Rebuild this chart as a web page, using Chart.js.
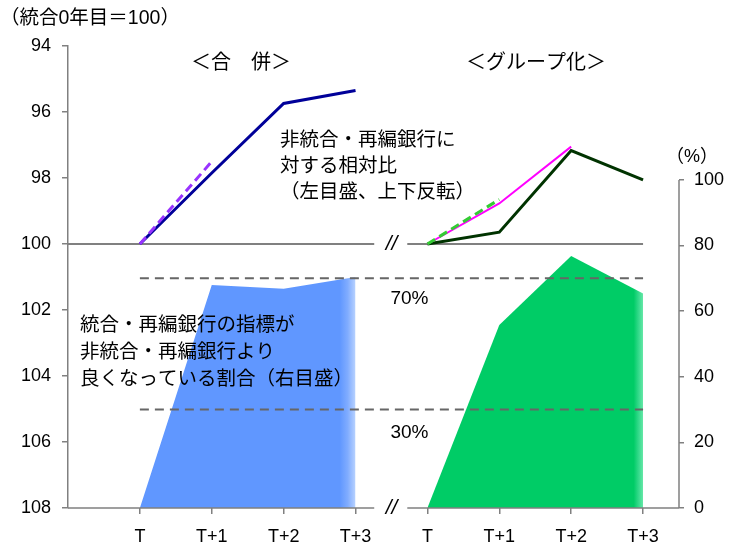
<!DOCTYPE html>
<html><head><meta charset="utf-8">
<script src="https://cdn.jsdelivr.net/npm/chart.js@4.4.1/dist/chart.umd.min.js"></script>
<style>html,body{margin:0;padding:0;background:#fff}</style>
</head><body>
<canvas id="c" width="744" height="547" style="width:744px;height:547px;display:block"></canvas>
<script>
// ---- data ----
const catLabels = ['T','T+1','T+2','T+3','T','T+1','T+2','T+3'];
const mergerPos = [0,1,2,3];
const groupPos  = [4,5,6,7];
// left axis (relative to non-integrated banks, 統合0年目=100, reversed)
const mergerRel      = [100, 97.85, 95.74, 95.35];
const mergerRelDash  = [100, 97.5];
const groupRelPink   = [100, 98.77, 97.05];
const groupRelDash   = [100, 98.65];
const groupRelDark   = [100, 99.64, 97.17, 98.06];
// right axis (% share better than non-integrated)
const mergerShare = [0, 68.0, 66.8, 70.4];
const groupShare  = [0, 55.8, 76.8, 65.4];
const refLevels   = [70, 30];
const refLabels   = ['70%', '30%'];
const baseLevel   = 100;
const leftTicks   = [94, 108, 2];
const rightTicks  = [0, 100, 20];

const FONT = '"Liberation Sans", Arial, "Noto Sans CJK JP", sans-serif';
Chart.defaults.font.family = FONT;
Chart.defaults.font.size = 18;
Chart.defaults.color = '#000';

const pts = (xs, ys) => ys.map((v,i)=>({x:xs[i], y:v}));

function fadeFill(solid, mid, light, fromX, toX) {
  return (c) => {
    const chart = c.chart;
    if (!chart.chartArea) return solid;
    const x = chart.scales.x;
    const x0 = x.getPixelForValue(fromX), x1 = x.getPixelForValue(toX);
    const g = chart.ctx.createLinearGradient(x0, 0, x1, 0);
    g.addColorStop(0, solid);
    g.addColorStop(0.5, mid);
    g.addColorStop(1, light);
    return g;
  };
}

const datasets = [
  {data: pts(mergerPos, mergerRel), yAxisID:'yL', borderColor:'#000099', borderWidth:3, order:1},
  {data: pts(mergerPos, mergerRelDash), yAxisID:'yL', borderColor:'#9933FF', borderWidth:3, borderDash:[9,5], order:0},
  {data: pts(groupPos, groupRelDark), yAxisID:'yL', borderColor:'#003300', borderWidth:3, order:2},
  {data: pts(groupPos, groupRelPink), yAxisID:'yL', borderColor:'#FF00FF', borderWidth:2, order:1},
  {data: pts(groupPos, groupRelDash), yAxisID:'yL', borderColor:'#33CC33', borderWidth:3, borderDash:[9,5], order:0},
  {data: pts([0,7], [refLevels[0], refLevels[0]]), yAxisID:'yR', borderColor:'#666666', borderWidth:2, borderDash:[9,6], order:5},
  {data: pts([0,7], [refLevels[1], refLevels[1]]), yAxisID:'yR', borderColor:'#666666', borderWidth:2, borderDash:[9,6], order:5},
  {data: pts(mergerPos, mergerShare), yAxisID:'yR', borderWidth:0, borderColor:'rgba(0,0,0,0)', fill:'origin',
    backgroundColor: fadeFill('#6097FF', '#80ACFF', '#B8D2FF', 2.78, 3.0), order:10},
  {data: pts(groupPos, groupShare), yAxisID:'yR', borderWidth:0, borderColor:'rgba(0,0,0,0)', fill:'origin',
    backgroundColor: fadeFill('#00CC66', '#33D98A', '#66E8A8', 6.87, 7.0), order:10},
];

const decor = {
  id:'decor',
  beforeDatasetsDraw(chart) {
    const {ctx, chartArea:a, scales:{x, yL}} = chart;
    const yb = yL.getPixelForValue(baseLevel);
    ctx.save();
    ctx.strokeStyle = '#808080'; ctx.lineWidth = 2;
    ctx.beginPath();
    ctx.moveTo(a.left, yb); ctx.lineTo(x.getPixelForValue(3.26), yb);
    ctx.moveTo(x.getPixelForValue(3.72), yb); ctx.lineTo(x.getPixelForValue(7), yb);
    ctx.stroke();
    ctx.restore();
  },
  afterDatasetsDraw(chart) {
    const {ctx, chartArea:a, scales:{x, yL, yR}} = chart;
    ctx.save();
    ctx.strokeStyle = '#808080'; ctx.lineWidth = 1.5;
    // bottom axis with break
    ctx.beginPath();
    ctx.moveTo(a.left, a.bottom); ctx.lineTo(x.getPixelForValue(3.26), a.bottom);
    ctx.moveTo(x.getPixelForValue(3.72), a.bottom); ctx.lineTo(a.right, a.bottom);
    // right axis (0-100 only)
    ctx.moveTo(a.right, yR.getPixelForValue(rightTicks[0]));
    ctx.lineTo(a.right, yR.getPixelForValue(rightTicks[1]));
    ctx.stroke();
    ctx.fillStyle = '#000';
    ctx.textBaseline = 'middle';
    // break marks
    ctx.font = `italic 21px ${FONT}`;
    ctx.textAlign = 'center';
    const xb = x.getPixelForValue(3.5);
    ctx.fillText('//', xb, yL.getPixelForValue(baseLevel));
    ctx.fillText('//', xb, a.bottom);
    // reference labels
    ctx.font = `19px ${FONT}`;
    ctx.fillText(refLabels[0], xb + 18, yR.getPixelForValue(refLevels[0]) + 20);
    ctx.fillText(refLabels[1], xb + 18, yR.getPixelForValue(refLevels[1]) + 23);
    // group titles
    ctx.font = `20px ${FONT}`;
    ctx.fillText('＜合　併＞', 241, 63);
    ctx.fillText('＜グループ化＞', 536, 63);
    ctx.font = `18px ${FONT}`;
    ctx.fillText('（%）', 692, 157);
    ctx.textAlign = 'left';
    ctx.font = `19.5px ${FONT}`;
    ctx.fillText('（統合0年目＝100）', 0, 19);
    ['非統合・再編銀行に','対する相対比','（左目盛、上下反転）'].forEach((t,i)=>ctx.fillText(t, 280, 141 + i*26));
    ['統合・再編銀行の指標が','非統合・再編銀行より','良くなっている割合（右目盛）'].forEach((t,i)=>ctx.fillText(t, 80, 326 + i*27));
    ctx.restore();
  }
};

new Chart(document.getElementById('c'), {
  type:'line',
  data:{datasets},
  options:{
    responsive:false, animation:false,
    layout:{padding:{top:46, left:0, right:0, bottom:0}},
    plugins:{legend:{display:false}, tooltip:{enabled:false}},
    elements:{point:{radius:0}, line:{tension:0}},
    scales:{
      x:{type:'linear', min:-1, max:7.5,
        afterBuildTicks:s=>{ s.ticks = catLabels.map((_,i)=>({value:i})); },
        ticks:{callback:(v,i)=>catLabels[i], autoSkip:false, maxRotation:0, padding:12},
        grid:{drawOnChartArea:false, tickLength:6, color:'#808080', lineWidth:1.5},
        border:{display:false},
        afterFit:s=>{ s.height = 39; }},
      yL:{position:'left', reverse:true, min:leftTicks[0], max:leftTicks[1],
        ticks:{stepSize:leftTicks[2], padding:11},
        grid:{drawOnChartArea:false, tickLength:6, color:'#808080', lineWidth:1.5},
        border:{display:true, color:'#808080', width:1.5},
        afterFit:s=>{ s.width = 68; }},
      yR:{position:'right', min:0, max:140.8,
        afterBuildTicks:s=>{ s.ticks = s.ticks.filter(t=>t.value<=rightTicks[1]); },
        ticks:{stepSize:rightTicks[2], padding:10},
        grid:{drawOnChartArea:false, tickLength:5, color:'#808080', lineWidth:1.5},
        border:{display:false},
        afterFit:s=>{ s.width = 65; }}
    }
  },
  plugins:[decor]
});
</script></body></html>
